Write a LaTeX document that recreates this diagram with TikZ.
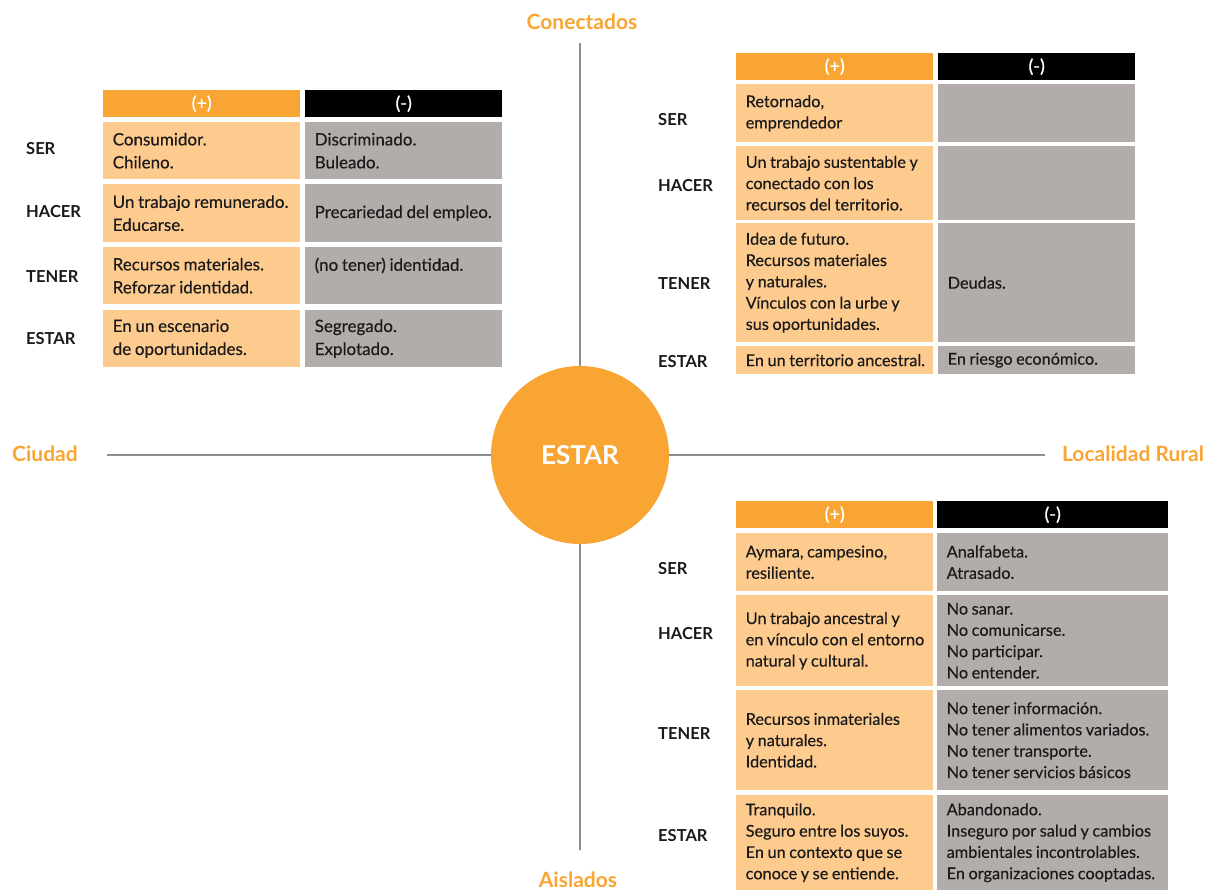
\documentclass[tikz,border=0pt]{standalone}
\usepackage{fontspec}
\setmainfont{Lato}
\newfontfamily\medfont{Lato}[FakeBold=0.25, WordSpace=0.85]
\newfontfamily\hdfont{Lato}[FakeBold=0.8]
\definecolor{orng}{HTML}{F9A533}
\definecolor{lorng}{HTML}{FECB8F}
\definecolor{gcell}{HTML}{B2ADAA}
\definecolor{txt}{HTML}{1A1A1A}
\definecolor{axis}{HTML}{8C8C8C}
% cell: name, x1, y1, x2, y2, style, text
\newcommand\mycell[7]{%
  \pgfmathsetmacro\cw{#4-#2}%
  \pgfmathsetmacro\ch{#5-#3}%
  \node[#6, minimum width=\cw pt, minimum height=\ch pt, anchor=north west] (#1) at (#2,#3) {};
  \node[#6, fill=none, anchor=west, align=left] (#1t) at ([xshift=9.5pt]#1.west) {#7};}
\newcommand\myhead[7]{%
  \pgfmathsetmacro\cw{#4-#2}%
  \pgfmathsetmacro\ch{#5-#3}%
  \node[#6, minimum width=\cw pt, minimum height=\ch pt, anchor=north west] (#1) at (#2,#3) {#7};}
\tikzset{
  base/.style={inner sep=0pt, text=txt},
  pcell/.style={base, fill=lorng},
  ncell/.style={base, fill=gcell},
  big/.style={font=\medfont\fontsize{17}{23}\selectfont},
  small/.style={font=\medfont\fontsize{16.3}{21.3}\selectfont},
  hp/.style={base, fill=orng, text=white, align=center, font=\hdfont\fontsize{18}{20}\selectfont},
  hn/.style={base, fill=black, text=white, align=center, font=\hdfont\fontsize{18}{20}\selectfont},
  rowlab/.style={anchor=west, inner sep=0pt, text=txt, font=\bfseries\fontsize{16.5}{18}\selectfont},
  axlab/.style={inner sep=0pt, text=orng, font=\bfseries\fontsize{21}{24}\selectfont},
  axline/.style={draw=axis, line width=2pt}
}
\begin{document}
\begin{tikzpicture}[x=1pt, y=-1pt]
\useasboundingbox (0,0) rectangle (1209,890);
% axes
\node[circle, fill=orng, minimum size=178pt, inner sep=0pt, text=white, font=\bfseries\fontsize{26}{30}\selectfont] (c) at (580,455) {ESTAR};
\coordinate (ytop) at (580,43);
\coordinate (ybot) at (580,850);
\coordinate (xl) at (107,455);
\coordinate (xr) at (1045,455);
\draw[axline] (ytop) -- (c.north);
\draw[axline] (c.south) -- (ybot);
\draw[axline] (xl) -- (c.west);
\draw[axline] (c.east) -- (xr);
\node[axlab] (conec) at (582,22) {Conectados};
\node[axlab] (aisl) at (578,880) {Aislados};
\node[axlab] (ciud) at (45,454) {Ciudad};
\node[axlab] (rural) at (1133,454) {Localidad Rural};
% ---------- top-left table
\myhead{tlhp}{103}{90}{300}{117}{hp}{(+)}
\myhead{tlhn}{305}{90}{502}{117}{hn}{(-)}
\mycell{tl1p}{103}{122}{300}{179}{pcell,big}{Consumidor.\\Chileno.}
\mycell{tl1n}{305}{122}{502}{179}{ncell,big}{Discriminado.\\Buleado.}
\mycell{tl2p}{103}{184}{300}{242}{pcell,big}{Un trabajo remunerado.\\Educarse.}
\mycell{tl2n}{305}{184}{502}{242}{ncell,big}{Precariedad del empleo.}
\mycell{tl3p}{103}{247}{300}{304}{pcell,big}{Recursos materiales.\\Reforzar identidad.}
\mycell{tl3n}{305}{247}{502}{304}{ncell,big}{(no tener) identidad.\\\mbox{}}
\mycell{tl4p}{103}{310}{300}{367}{pcell,big}{En un escenario\\de oportunidades.}
\mycell{tl4n}{305}{310}{502}{367}{ncell,big}{Segregado.\\Explotado.}
\node[rowlab] (tlr1) at (26,149) {SER};
\node[rowlab] (tlr2) at (26,212) {HACER};
\node[rowlab] (tlr3) at (26,277) {TENER};
\node[rowlab] (tlr4) at (26,339) {ESTAR};
% ---------- top-right table
\myhead{trhp}{736}{53}{933}{80}{hp}{(+)}
\myhead{trhn}{938}{53}{1135}{80}{hn}{(-)}
\mycell{tr1p}{736}{84}{933}{142}{pcell,small}{Retornado,\\emprendedor}
\myhead{tr1n}{938}{84}{1135}{142}{ncell}{}
\mycell{tr2p}{736}{146}{933}{220}{pcell,small}{Un trabajo sustentable y\\conectado con los\\recursos del territorio.}
\myhead{tr2n}{938}{146}{1135}{220}{ncell}{}
\mycell{tr3p}{736}{223}{933}{342}{pcell,small}{Idea de futuro.\\Recursos materiales\\y naturales.\\Vínculos con la urbe y\\sus oportunidades.}
\mycell{tr3n}{938}{223}{1135}{342}{ncell,small}{Deudas.}
\mycell{tr4p}{736}{346}{933}{374}{pcell,small}{En un territorio ancestral.}
\mycell{tr4n}{938}{346}{1135}{374}{ncell,small}{En riesgo económico.}
\node[rowlab] (trr1) at (658,120) {SER};
\node[rowlab] (trr2) at (658,186) {HACER};
\node[rowlab] (trr3) at (658,284) {TENER};
\node[rowlab] (trr4) at (658,362) {ESTAR};
% ---------- bottom-right table
\myhead{brhp}{736}{501}{933}{528}{hp}{(+)}
\myhead{brhn}{937}{501}{1168}{528}{hn}{(-)}
\mycell{br1p}{736}{533}{933}{591}{pcell,small}{Aymara, campesino,\\resiliente.}
\mycell{br1n}{937}{533}{1168}{591}{ncell,small}{Analfabeta.\\Atrasado.}
\mycell{br2p}{736}{595}{933}{686}{pcell,small}{Un trabajo ancestral y\\en vínculo con el entorno\\natural y cultural.}
\mycell{br2n}{937}{595}{1168}{686}{ncell,small}{No sanar.\\No comunicarse.\\No participar.\\No entender.}
\mycell{br3p}{736}{690}{933}{790}{pcell,small}{Recursos inmateriales\\y naturales.\\Identidad.}
\mycell{br3n}{937}{690}{1168}{790}{ncell,small}{No tener información.\\No tener alimentos variados.\\No tener transporte.\\No tener servicios básicos}
\mycell{br4p}{736}{795}{933}{890}{pcell,small}{Tranquilo.\\Seguro entre los suyos.\\En un contexto que se\\conoce y se entiende.}
\mycell{br4n}{937}{795}{1168}{890}{ncell,small}{Abandonado.\\Inseguro por salud y cambios\\ambientales incontrolables.\\En organizaciones cooptadas.}
\node[rowlab] (brr1) at (658,569) {SER};
\node[rowlab] (brr2) at (658,634) {HACER};
\node[rowlab] (brr3) at (658,734) {TENER};
\node[rowlab] (brr4) at (658,836) {ESTAR};
\end{tikzpicture}
\end{document}
